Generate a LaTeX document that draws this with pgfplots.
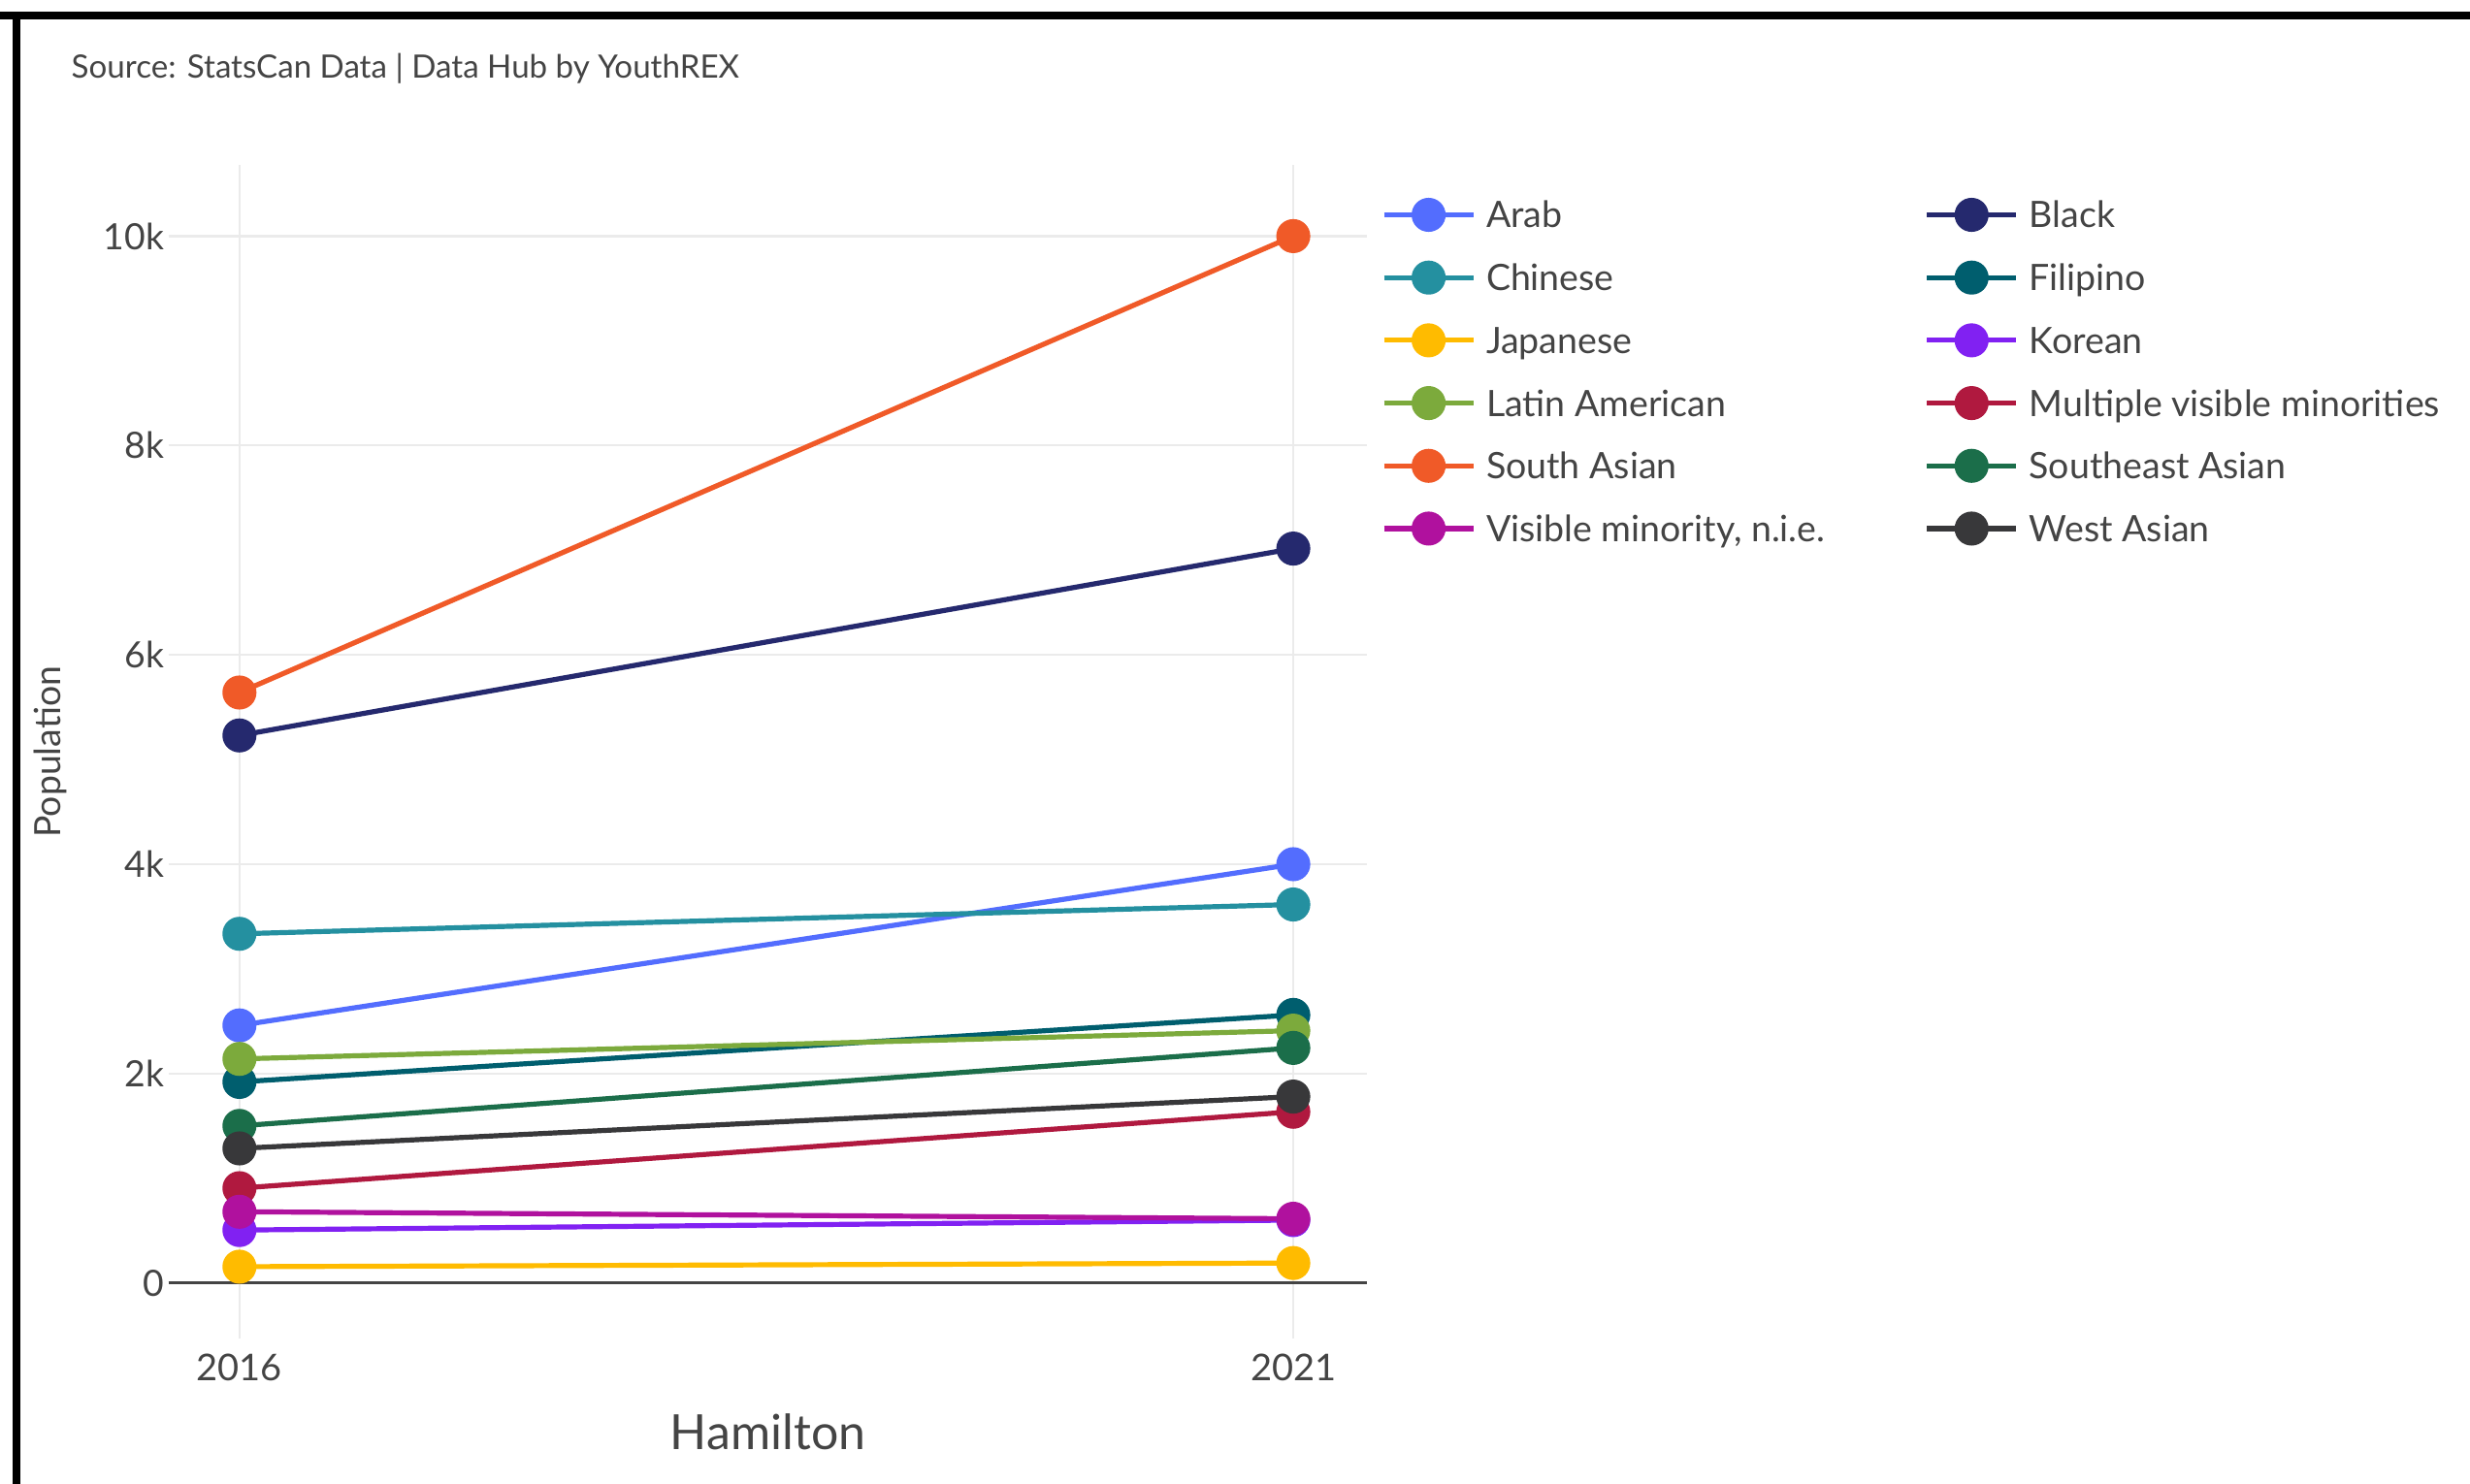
\documentclass[border=0pt]{standalone}
\usepackage{fontspec}
\setmainfont{Lato}
\usepackage{pgfplots}
\pgfplotsset{compat=1.18}
\definecolor{arabc}{HTML}{536DFE}
\definecolor{blackc}{HTML}{25296E}
\definecolor{chinesec}{HTML}{2490A0}
\definecolor{filipinoc}{HTML}{005E6E}
\definecolor{japanesec}{HTML}{FFBB00}
\definecolor{koreanc}{HTML}{8121F2}
\definecolor{latinc}{HTML}{7CAA3C}
\definecolor{multic}{HTML}{B0193F}
\definecolor{southc}{HTML}{F05A28}
\definecolor{seasianc}{HTML}{1B6E4A}
\definecolor{visc}{HTML}{B0119E}
\definecolor{westc}{HTML}{38383A}
\definecolor{txt}{HTML}{444444}
\definecolor{gridc}{HTML}{EBEBEB}
\definecolor{zeroc}{HTML}{444444}
\pgfplotsset{ser/.style={color=#1, line width=1.6pt, mark=*, mark size=4.6pt, mark options={solid, draw=none, fill=#1}}}
\newcommand{\cw}[1]{\makebox[139.1pt][l]{#1}}
\begin{document}
\begin{tikzpicture}
\useasboundingbox (0,0) rectangle (784pt,471pt);
\fill[white] (0,0) rectangle (784pt,471pt);
\fill[black] (0pt,464.85pt) rectangle (784pt,467.3pt);
\fill[black] (3.9pt,0pt) rectangle (6.35pt,467.3pt);
\node[anchor=base west, inner sep=0pt, text=txt, font=\fontsize{10.2}{12}\selectfont] at (22.5pt,446.35pt) {Source: StatsCan Data | Data Hub by YouthREX};
\begin{axis}[
  at={(53.5pt,46pt)}, anchor=south west, scale only axis,
  width=380.5pt, height=372.5pt,
  xmin=2015.6637, xmax=2021.3513, ymin=-532.6, ymax=10676,
  axis line style={draw=none}, major tick length=0pt,
  /pgf/number format/assume math mode=true,
  scaled y ticks=false, scaled x ticks=false,
  xtick={2016,2021}, xticklabels={2016,2021},
  ytick={2000,4000,6000,8000,10000}, yticklabels={2k,4k,6k,8k,10k},
  extra y ticks={0}, extra y tick labels={0},
  extra y tick style={major grid style={draw=zeroc, line width=0.9pt}},
  xmajorgrids, ymajorgrids,
  major grid style={draw=gridc, line width=0.7pt},
  yticklabel style={text=txt, font=\fontsize{11.5}{13}\selectfont, inner sep=0pt, anchor=east, xshift=-1.2pt},
  xticklabel style={text=txt, font=\fontsize{11.7}{14}\selectfont, inner sep=0pt, anchor=center, yshift=-9pt},
  xlabel={Hamilton},
  xlabel style={at={(axis description cs:0.5,-0.0792)}, anchor=center, text=txt, font=\fontsize{15.4}{18}\selectfont, inner sep=0pt},
  ylabel={Population},
  ylabel style={at={(axis description cs:-0.09855,0.5)}, anchor=center, rotate=0, text=txt, font=\fontsize{11.5}{13}\selectfont, inner sep=0pt},
  legend columns=2,
  legend cell align=left,
  legend image code/.code={
    \draw[mark repeat=2, mark phase=2, #1] plot coordinates {(0pt,0pt) (14.15pt,0pt) (28.3pt,0pt)};
    \path (31.65pt,0pt);
  },
  legend style={at={(1.01183,0.98456)}, anchor=north west, draw=none, fill=none,
    inner sep=0pt, outer sep=0pt, column sep=0pt, row sep=0pt,
    font=\fontsize{11.55}{14}\selectfont, text=txt,
    nodes={inner sep=0pt, text height=14.1pt, text depth=5.82pt}},
]
\addplot[ser=arabc] coordinates {(2016,2460) (2021,4000)};
\addlegendentry{\cw{Arab}}
\addplot[ser=blackc] coordinates {(2016,5230) (2021,7015)};
\addlegendentry{Black}
\addplot[ser=chinesec] coordinates {(2016,3335) (2021,3615)};
\addlegendentry{\cw{Chinese}}
\addplot[ser=filipinoc] coordinates {(2016,1920) (2021,2560)};
\addlegendentry{Filipino}
\addplot[ser=japanesec] coordinates {(2016,155) (2021,190)};
\addlegendentry{\cw{Japanese}}
\addplot[ser=koreanc] coordinates {(2016,505) (2021,600)};
\addlegendentry{Korean}
\addplot[ser=latinc] coordinates {(2016,2140) (2021,2410)};
\addlegendentry{\cw{Latin American}}
\addplot[ser=multic] coordinates {(2016,905) (2021,1635)};
\addlegendentry{Multiple visible minorities}
\addplot[ser=southc] coordinates {(2016,5640) (2021,10000)};
\addlegendentry{\cw{South Asian}}
\addplot[ser=seasianc] coordinates {(2016,1500) (2021,2245)};
\addlegendentry{Southeast Asian}
\addplot[ser=visc] coordinates {(2016,680) (2021,613)};
\addlegendentry{\cw{Visible minority, n.i.e.}}
\addplot[ser=westc] coordinates {(2016,1285) (2021,1780)};
\addlegendentry{West Asian}
\end{axis}
\end{tikzpicture}
\end{document}
